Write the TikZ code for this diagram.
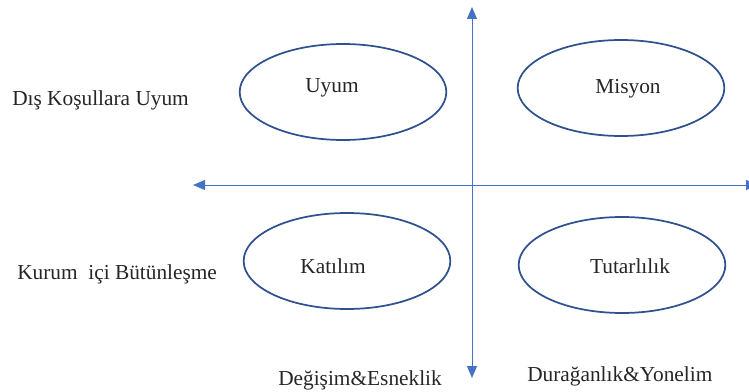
\documentclass[tikz,border=0pt]{standalone}
\usepackage{fontspec}
\setmainfont{Liberation Serif}
\usetikzlibrary{arrows.meta,shapes.geometric}

\begin{document}
\begin{tikzpicture}[
  x=0.75pt, y=-0.75pt,
  oval/.style={draw=ovalblue, line width=1.3pt, ellipse,
               minimum width=155pt, minimum height=72pt, inner sep=0pt},
  lbl/.style={font=\fontsize{16}{19}\selectfont, text=black!85, anchor=base, inner sep=0pt},
  side/.style={lbl, anchor=base west},
  axis/.style={-{Triangle[length=9pt, width=7.5pt]}, draw=axisblue, fill=axisblue, line width=0.75pt}
]
\definecolor{ovalblue}{HTML}{2F528F}
\definecolor{axisblue}{HTML}{4472C4}
\clip (0,0) rectangle (749,392);

% quadrants
\node[oval] (uyum)   at (343,92)  {};
\node[oval] (misyon) at (621,88)  {};
\node[oval] (katil)  at (347,261) {};
\node[oval] (tutar)  at (622,265) {};
\node[lbl] (tuyum)   at (332,93)  {Uyum};
\node[lbl] (tmisyon) at (628,94)  {Misyon};
\node[lbl] (tkatil)  at (333,273) {Katılım};
\node[lbl] (ttutar)  at (630,273) {Tutarlılık};

% axes
\coordinate (mid) at (472,185);
\coordinate (west) at (193,185);
\coordinate (east) at (758,185);
\coordinate (north) at (472,7);
\coordinate (south) at (472,378);
\draw[axis] (mid) -- (west);
\draw[axis] (mid) -- (east);
\draw[axis] (mid) -- (north);
\draw[axis] (mid) -- (south);

% side texts
\node[side] (dis)  at (12,106)  {Dış Koşullara Uyum};
\node[side] (ic)   at (17,279)  {Kurum\ \ içi Bütünleşme};
\node[side] (deg)  at (278,385) {Değişim\&Esneklik};
\node[side] (dur)  at (527,381) {Durağanlık\&Yonelim};
\end{tikzpicture}
\end{document}
